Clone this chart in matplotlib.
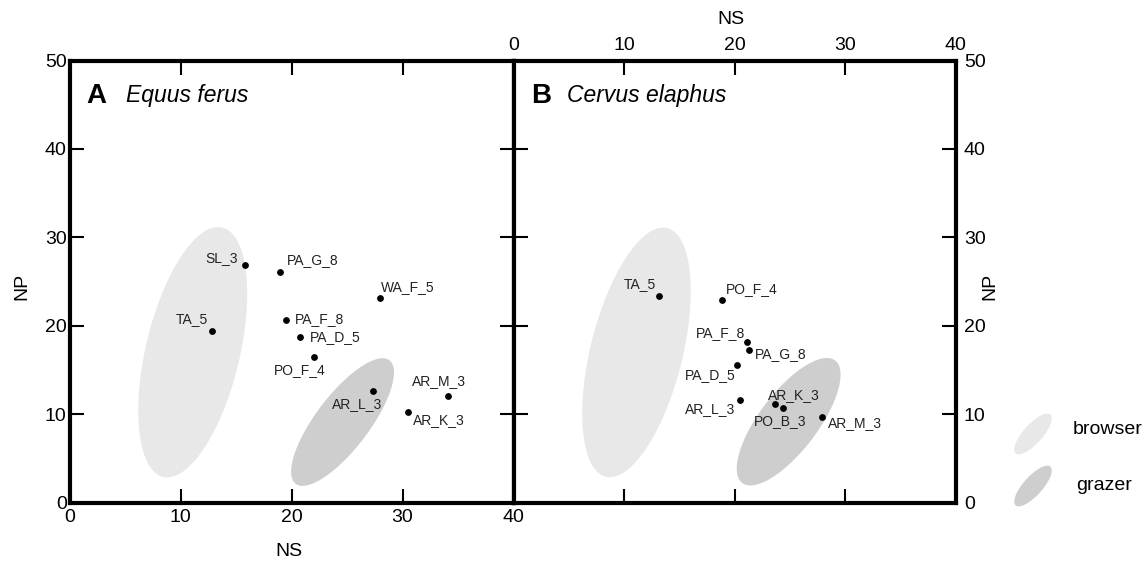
import numpy as np
from matplotlib import pyplot as plt
from matplotlib.patches import Ellipse

plt.rcParams['font.family'] = ['Liberation Sans', 'DejaVu Sans']

# Equus ferus sites (NS, NP)
horse_sites = ['SL_3', 'PA_G_8', 'WA_F_5', 'TA_5', 'PA_F_8', 'PA_D_5',
               'PO_F_4', 'AR_L_3', 'AR_M_3', 'AR_K_3']
horse_ns = [15.8, 19.0, 28.0, 12.8, 19.5, 20.8, 22.0, 27.3, 34.1, 30.5]
horse_np = [26.9, 26.1, 23.1, 19.4, 20.7, 18.7, 16.5, 12.6, 12.0, 10.2]

# Cervus elaphus sites (NS, NP)
deer_sites = ['TA_5', 'PO_F_4', 'PA_F_8', 'PA_G_8', 'PA_D_5', 'AR_L_3',
              'AR_K_3', 'PO_B_3', 'AR_M_3']
deer_ns = [13.2, 18.9, 21.1, 21.3, 20.2, 20.5, 23.7, 24.4, 27.9]
deer_np = [23.4, 22.9, 18.2, 17.3, 15.5, 11.6, 11.1, 10.7, 9.7]

# reference ellipses: centre (ns, np), x half-axis terms p/q, y half-extent r
browser_a = (11.1, 17.0, 4.34, 2.29, 14.16)
grazer_a = (24.6, 9.1, 2.92, 3.60, 7.22)
browser_b = (11.13, 16.98, 4.28, 2.41, 14.12)
grazer_b = (24.9, 9.14, 3.18, 3.46, 7.21)

browser_col = '#e8e8e8'
grazer_col = '#cecece'

# label offsets in pixels from the dot, plus horizontal alignment
horse_offsets = {
    'SL_3': (-7, 7, 'right'), 'PA_G_8': (6, 12, 'left'), 'WA_F_5': (1, 11, 'left'),
    'TA_5': (-4, 12, 'right'), 'PA_F_8': (9, 0, 'left'), 'PA_D_5': (9, 0, 'left'),
    'PO_F_4': (12, -13, 'right'), 'AR_L_3': (10, -13, 'right'),
    'AR_M_3': (-36, 15, 'left'), 'AR_K_3': (5, -8, 'left'),
}
deer_offsets = {
    'TA_5': (-3, 12, 'right'), 'PO_F_4': (4, 11, 'left'), 'PA_F_8': (-2, 9, 'right'),
    'PA_G_8': (6, -4, 'left'), 'PA_D_5': (-1, -10, 'right'), 'AR_L_3': (-5, -9, 'right'),
    'AR_K_3': (-7, 9, 'left'), 'PO_B_3': (-29, -13, 'left'), 'AR_M_3': (6, -6, 'left'),
}


def draw_ellipse(ax, params, color):
    cx, cy, p, q, r = params
    t = np.linspace(0, 2 * np.pi, 200)
    ax.fill(cx + p * np.cos(t) + q * np.sin(t), cy + r * np.sin(t),
            color=color, lw=0, zorder=1)


def style_axes(ax):
    ax.set_xlim(0, 40)
    ax.set_ylim(0, 50)
    ax.set_xticks([0, 10, 20, 30, 40])
    ax.set_yticks([0, 10, 20, 30, 40, 50])
    for sp in ax.spines.values():
        sp.set_linewidth(3)
        sp.set_zorder(5)
    ax.tick_params(direction='in', length=10, width=1.5, labelsize=14,
                   top=True, right=True, bottom=True, left=True)


def plot_panel(ax, ns, np_vals, sites, offsets, browser, grazer):
    draw_ellipse(ax, browser, browser_col)
    draw_ellipse(ax, grazer, grazer_col)
    ax.scatter(ns, np_vals, s=15, color='black', zorder=3)
    for x, y, name in zip(ns, np_vals, sites):
        dx, dy, ha = offsets[name]
        ax.annotate(name, (x, y), xytext=(dx, dy), textcoords='offset pixels',
                    ha=ha, va='center', fontsize=10, color='#222222', zorder=4)


fig = plt.figure(figsize=(11.48, 5.63), dpi=100)
ax_a = fig.add_axes([69.5 / 1148, 60.5 / 563, 444 / 1148, 442 / 563])
ax_b = fig.add_axes([513.5 / 1148, 60.5 / 563, 442 / 1148, 442 / 563])

for ax in (ax_a, ax_b):
    style_axes(ax)

ax_a.tick_params(labelbottom=True, labelleft=True, labeltop=False, labelright=False)
ax_a.tick_params(axis='x', pad=5)
ax_a.tick_params(axis='y', pad=2)
ax_b.tick_params(labelbottom=False, labelleft=False, labeltop=True, labelright=True)
ax_b.tick_params(axis='x', pad=5)
ax_b.tick_params(axis='y', pad=6)

plot_panel(ax_a, horse_ns, horse_np, horse_sites, horse_offsets, browser_a, grazer_a)
plot_panel(ax_b, deer_ns, deer_np, deer_sites, deer_offsets, browser_b, grazer_b)

ax_a.text(0.037, 0.92, 'A', transform=ax_a.transAxes, fontsize=20,
          fontweight='bold', va='center')
ax_a.text(0.127, 0.92, 'Equus ferus', transform=ax_a.transAxes, fontsize=16.5,
          style='italic', va='center')
ax_b.text(0.041, 0.92, 'B', transform=ax_b.transAxes, fontsize=20,
          fontweight='bold', va='center')
ax_b.text(0.12, 0.92, 'Cervus elaphus', transform=ax_b.transAxes, fontsize=16.5,
          style='italic', va='center')

fig.text(289 / 1148, 1 - 551 / 563, 'NS', fontsize=14, ha='center', va='center')
fig.text(731 / 1148, 1 - 19 / 563, 'NS', fontsize=14, ha='center', va='center')
fig.text(22 / 1148, 1 - 286 / 563, 'NP', fontsize=14, ha='center', va='center',
         rotation=90)
fig.text(990 / 1148, 1 - 286 / 563, 'NP', fontsize=14, ha='center', va='center',
         rotation=90)

# key for the two diet ellipses, drawn in a pixel-unit axes
key = fig.add_axes([1000 / 1148, 43 / 563, 148 / 1148, 120 / 563])
key.set_xlim(0, 148)
key.set_ylim(0, 120)
key.axis('off')
key.add_patch(Ellipse((33, 86), 52, 19, angle=48, color=browser_col, lw=0))
key.add_patch(Ellipse((33, 34), 52, 19, angle=48, color=grazer_col, lw=0))
key.text(73, 90, 'browser', fontsize=14, va='center')
key.text(76, 35, 'grazer', fontsize=14, va='center')

fig.savefig('out.png', dpi=100)
